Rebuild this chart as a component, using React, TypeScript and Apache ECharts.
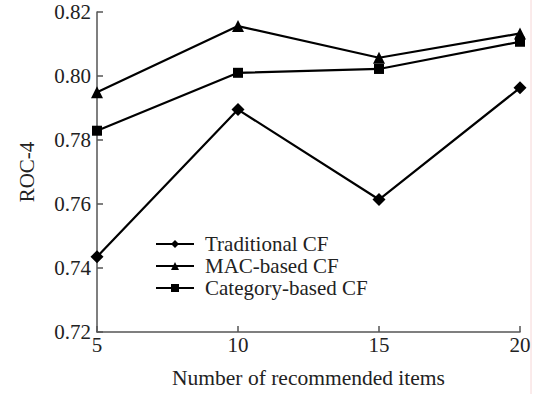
import React, { useEffect, useRef } from "react";
import * as echarts from "echarts";

const xValues = [5, 10, 15, 20];
const traditional = [0.7435, 0.7895, 0.7614, 0.7963];
const macBased = [0.7949, 0.8156, 0.8057, 0.8133];
const categoryBased = [0.7829, 0.801, 0.8022, 0.8107];
const seriesNames = ["Traditional CF", "MAC-based CF", "Category-based CF"];

const FONT = "'Liberation Serif', 'Times New Roman', serif";

export default function App() {
  const ref = useRef<HTMLDivElement>(null);
  useEffect(() => {
    if (!ref.current) return;
    const chart = echarts.init(ref.current, undefined, { renderer: "svg" });
    const pair = (arr: number[]) => xValues.map((x, i) => [x, arr[i]]);
    const lineStyle = { color: "#000", width: 2.2 };
    chart.setOption({
      animation: false,
      backgroundColor: "#fff",
      grid: { left: 97, right: 18, top: 12, bottom: 61 },
      legend: {
        orient: "vertical",
        left: 150,
        top: 228,
        itemWidth: 38,
        itemHeight: 10,
        itemGap: 0,
        textStyle: { fontFamily: FONT, fontSize: 21, color: "#222", lineHeight: 22, padding: [0, 0, 0, 6] },
        data: seriesNames,
      },
      xAxis: {
        type: "value",
        min: 5,
        max: 20,
        interval: 5,
        name: "Number of recommended items",
        nameLocation: "middle",
        nameGap: 35,
        nameTextStyle: { fontFamily: FONT, fontSize: 21.5, color: "#222" },
        axisLine: { lineStyle: { color: "#555", width: 1.5 } },
        axisTick: { inside: true, length: 6, lineStyle: { color: "#555", width: 1.5 } },
        axisLabel: { fontFamily: FONT, fontSize: 21, color: "#222", margin: 2 },
        splitLine: { show: false },
      },
      yAxis: {
        type: "value",
        min: 0.72,
        max: 0.82,
        interval: 0.02,
        name: "ROC-4",
        nameLocation: "middle",
        nameGap: 60,
        nameTextStyle: { fontFamily: FONT, fontSize: 21, color: "#222" },
        axisLine: { show: true, lineStyle: { color: "#555", width: 1.5 } },
        axisTick: { show: true, inside: true, length: 6, lineStyle: { color: "#555", width: 1.5 } },
        axisLabel: {
          fontFamily: FONT,
          fontSize: 21,
          color: "#222",
          margin: 6,
          formatter: (v: number) => v.toFixed(2),
        },
        splitLine: { show: false },
      },
      series: [
        {
          name: seriesNames[0],
          type: "line",
          data: pair(traditional),
          symbol: "diamond",
          symbolSize: 13,
          itemStyle: { color: "#000" },
          lineStyle,
        },
        {
          name: seriesNames[1],
          type: "line",
          data: pair(macBased),
          symbol: "triangle",
          symbolSize: 12,
          itemStyle: { color: "#000" },
          lineStyle,
        },
        {
          name: seriesNames[2],
          type: "line",
          data: pair(categoryBased),
          symbol: "rect",
          symbolSize: 10,
          itemStyle: { color: "#000" },
          lineStyle,
        },
      ],
      graphic: [
        {
          type: "line",
          shape: { x1: 531, y1: 0, x2: 531, y2: 394 },
          style: { stroke: "#f6d6d6", lineWidth: 1 },
        },
      ],
    });
    return () => chart.dispose();
  }, []);
  return <div ref={ref} style={{ width: 538, height: 394, position: "absolute", left: 0, top: 0 }} />;
}
